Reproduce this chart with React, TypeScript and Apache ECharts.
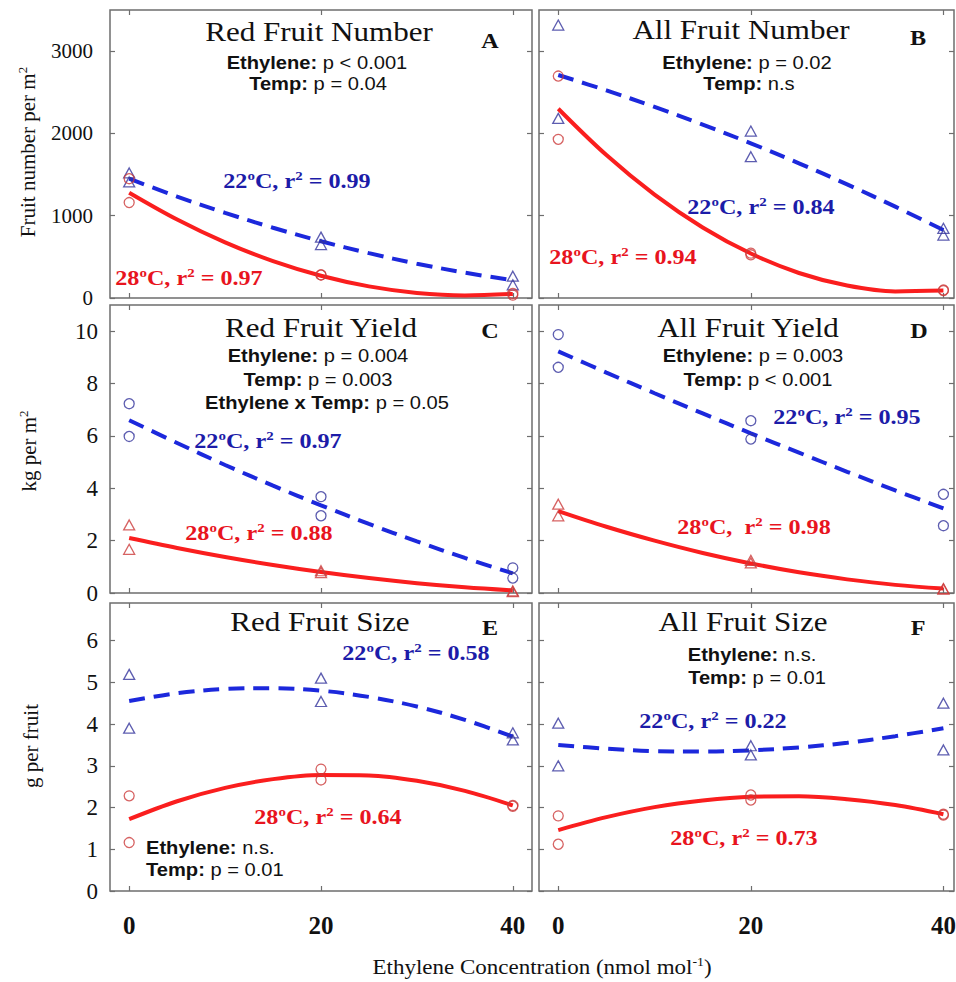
import React, { useEffect, useRef } from "react";
import * as echarts from "echarts";

// ---------- data ----------
const xTickValues = [0, 20, 40];
const fitX = [0, 5, 10, 15, 20, 25, 30, 35, 40];
const obsX = [0, 0, 20, 20, 40, 40];

const numberTicks = [0, 1000, 2000, 3000];
const yieldTicks = [0, 2, 4, 6, 8, 10];
const sizeTicks = [0, 1, 2, 3, 4, 5, 6];

// A: Red Fruit Number
const redNumberFit22 = [1450, 1233, 1035, 854, 690, 545, 417, 308, 215];
const redNumberFit28 = [1280, 954, 676, 448, 270, 141, 61, 31, 50];
const redNumberObs22 = [1520, 1410, 740, 650, 265, 160];
const redNumberObs28 = [1450, 1160, 280, 280, 55, 35];

// B: All Fruit Number
const allNumberFit22 = [2710, 2523, 2323, 2108, 1880, 1637, 1381, 1110, 826];
const allNumberFit28 = [2300, 1737, 1256, 857, 540, 304, 151, 80, 90];
const allNumberObs22 = [3317, 2183, 2029, 1717, 847, 765];
const allNumberObs28 = [2697, 1928, 545, 525, 97, 90];

// C: Red Fruit Yield
const redYieldFit22 = [6.6, 5.73, 4.89, 4.1, 3.35, 2.64, 1.97, 1.34, 0.75];
const redYieldFit28 = [2.1, 1.72, 1.375, 1.07, 0.8, 0.57, 0.375, 0.22, 0.1];
const redYieldObs22 = [7.23, 5.98, 3.68, 2.95, 0.96, 0.57];
const redYieldObs28 = [2.6, 1.67, 0.85, 0.78, 0.08, 0.05];

// D: All Fruit Yield
const allYieldFit22 = [9.23, 8.42, 7.63, 6.86, 6.1, 5.36, 4.63, 3.92, 3.23];
const allYieldFit28 = [3.13, 2.53, 2.0, 1.53, 1.13, 0.79, 0.52, 0.31, 0.17];
const allYieldObs22 = [9.87, 8.62, 6.58, 5.88, 3.77, 2.57];
const allYieldObs28 = [3.39, 2.95, 1.25, 1.15, 0.17, 0.15];

// E: Red Fruit Size
const redSizeFit22 = [4.55, 4.74, 4.84, 4.86, 4.8, 4.65, 4.42, 4.1, 3.7];
const redSizeFit28 = [1.72, 2.15, 2.47, 2.68, 2.78, 2.77, 2.64, 2.4, 2.05];
const redSizeObs22 = [5.19, 3.9, 5.1, 4.54, 3.79, 3.62];
const redSizeObs28 = [2.28, 1.16, 2.92, 2.66, 2.05, 2.03];

// F: All Fruit Size
const allSizeFit22 = [3.5, 3.41, 3.35, 3.34, 3.37, 3.44, 3.55, 3.71, 3.9];
const allSizeFit28 = [1.46, 1.77, 2.01, 2.17, 2.26, 2.27, 2.2, 2.06, 1.84];
const allSizeObs22 = [4.02, 3.0, 3.48, 3.26, 4.5, 3.38];
const allSizeObs28 = [1.8, 1.12, 2.3, 2.18, 1.84, 1.82];

// ---------- style ----------
const SERIF = "'Liberation Serif','Times New Roman',serif";
const SANS = "'Liberation Sans',Arial,sans-serif";
const FRAME = "#6e6e6e";
const BLUE_LINE = "#1c28dc";
const RED_LINE = "#fa1e1e";
const BLUE_MARK = "#34349c";
const RED_MARK = "#cc3b3b";
const BLUE_TXT = "#1c1ca8";
const RED_TXT = "#e8141e";
const SX = 1.15;

type Panel = {
  rect: number[];
  xMax: number;
  yMax: number;
  yTicks: number[];
  yLabels: boolean;
  yLabelSize: number;
  yLabelMargin: number;
  xLabels: boolean;
  fit22: number[];
  fit28: number[];
  obs22: number[];
  obs28: number[];
  sym22: string;
  sym28: string;
};

const panels: Panel[] = [
  { rect: [110, 10, 422, 288], xMax: 42, yMax: 3500, yTicks: numberTicks, yLabels: true, yLabelSize: 21, yLabelMargin: 17, xLabels: false, fit22: redNumberFit22, fit28: redNumberFit28, obs22: redNumberObs22, obs28: redNumberObs28, sym22: "triangle", sym28: "circle" },
  { rect: [539, 10, 415, 288], xMax: 41.1, yMax: 3500, yTicks: numberTicks, yLabels: false, yLabelSize: 21, yLabelMargin: 17, xLabels: false, fit22: allNumberFit22, fit28: allNumberFit28, obs22: allNumberObs22, obs28: allNumberObs28, sym22: "triangle", sym28: "circle" },
  { rect: [110, 305, 422, 288], xMax: 42, yMax: 11, yTicks: yieldTicks, yLabels: true, yLabelSize: 23, yLabelMargin: 12, xLabels: false, fit22: redYieldFit22, fit28: redYieldFit28, obs22: redYieldObs22, obs28: redYieldObs28, sym22: "circle", sym28: "triangle" },
  { rect: [539, 305, 415, 288], xMax: 41.1, yMax: 11, yTicks: yieldTicks, yLabels: false, yLabelSize: 23, yLabelMargin: 12, xLabels: false, fit22: allYieldFit22, fit28: allYieldFit28, obs22: allYieldObs22, obs28: allYieldObs28, sym22: "circle", sym28: "triangle" },
  { rect: [110, 603, 422, 288], xMax: 42, yMax: 6.9, yTicks: sizeTicks, yLabels: true, yLabelSize: 23, yLabelMargin: 12, xLabels: true, fit22: redSizeFit22, fit28: redSizeFit28, obs22: redSizeObs22, obs28: redSizeObs28, sym22: "triangle", sym28: "circle" },
  { rect: [539, 603, 415, 288], xMax: 41.1, yMax: 6.9, yTicks: sizeTicks, yLabels: false, yLabelSize: 23, yLabelMargin: 12, xLabels: true, fit22: allSizeFit22, fit28: allSizeFit28, obs22: allSizeObs22, obs28: allSizeObs28, sym22: "triangle", sym28: "circle" },
];

// ---------- text helpers ----------
const titleEl = (text: string, x: number, y: number) => ({
  type: "text", x, y, scaleX: SX, z: 10,
  style: { text, fontFamily: SERIF, fontSize: 27, fill: "#111", textAlign: "center", align: "center", textVerticalAlign: "middle", verticalAlign: "middle" },
});
const letterEl = (text: string, x: number, y: number) => ({
  type: "text", x, y, scaleX: SX, z: 10,
  style: { text, fontFamily: SERIF, fontWeight: "bold", fontSize: 21, fill: "#111", textAlign: "center", align: "center", textVerticalAlign: "middle", verticalAlign: "middle" },
});
const statEl = (bold: string, rest: string, x: number, y: number, align = "center") => ({
  type: "text", x, y, scaleX: SX, z: 10,
  style: {
    text: `{b|${bold}}{r|${rest}}`,
    textAlign: align, align, textVerticalAlign: "middle", verticalAlign: "middle",
    rich: {
      b: { fontFamily: SANS, fontWeight: "bold", fontSize: 17.5, fill: "#111" },
      r: { fontFamily: SANS, fontSize: 17.5, fill: "#111" },
    },
  },
});
const r2El = (temp: string, r2: string, color: string, x: number, y: number, sep = " ") => ({
  type: "text", x, y, scaleX: SX, z: 10,
  style: {
    text: `{a|${temp}}{s|o}{a|C,${sep}r}{s|2}{a| = ${r2}}`,
    textAlign: "center", align: "center", textVerticalAlign: "middle", verticalAlign: "middle",
    rich: {
      a: { fontFamily: SERIF, fontWeight: "bold", fontSize: 21, fill: color, lineHeight: 24 },
      s: { fontFamily: SERIF, fontWeight: "bold", fontSize: 13, fill: color, lineHeight: 12, verticalAlign: "top" },
    },
  },
});
const yTitleEl = (main: string, sup: string, x: number, y: number) => ({
  type: "text", x, y, rotation: Math.PI / 2, z: 10,
  style: {
    text: sup ? `{a|${main}}{s|${sup}}` : `{a|${main}}`,
    textAlign: "center", align: "center", textVerticalAlign: "middle", verticalAlign: "middle",
    rich: {
      a: { fontFamily: SERIF, fontSize: 21, fill: "#111", lineHeight: 24 },
      s: { fontFamily: SERIF, fontSize: 13, fill: "#111", lineHeight: 12, verticalAlign: "top" },
    },
  },
});

const graphics = [
  // A
  titleEl("Red Fruit Number", 319, 32),
  letterEl("A", 490, 41),
  statEl("Ethylene:", " p < 0.001", 317, 63),
  statEl("Temp:", " p = 0.04", 318, 84),
  r2El("22", "0.99", BLUE_TXT, 297, 181),
  r2El("28", "0.97", RED_TXT, 189, 278),
  // B
  titleEl("All Fruit Number", 741, 30),
  letterEl("B", 918, 38),
  statEl("Ethylene:", " p = 0.02", 747, 63),
  statEl("Temp:", " n.s", 749, 84),
  r2El("22", "0.84", BLUE_TXT, 761, 207),
  r2El("28", "0.94", RED_TXT, 623, 257),
  // C
  titleEl("Red Fruit Yield", 321, 328),
  letterEl("C", 490, 331),
  statEl("Ethylene:", " p = 0.004", 318, 356),
  statEl("Temp:", " p = 0.003", 318, 380),
  statEl("Ethylene x Temp:", " p = 0.05", 327, 403),
  r2El("22", "0.97", BLUE_TXT, 268, 441),
  r2El("28", "0.88", RED_TXT, 259, 533),
  // D
  titleEl("All Fruit Yield", 748, 328),
  letterEl("D", 919, 331),
  statEl("Ethylene:", " p = 0.003", 753, 356),
  statEl("Temp:", " p < 0.001", 758, 380),
  r2El("22", "0.95", BLUE_TXT, 847, 417),
  r2El("28", "0.98", RED_TXT, 754, 527, "  "),
  // E
  titleEl("Red Fruit Size", 320, 622),
  letterEl("E", 490, 628),
  r2El("22", "0.58", BLUE_TXT, 416, 653),
  r2El("28", "0.64", RED_TXT, 328, 817),
  statEl("Ethylene:", " n.s.", 146, 848, "left"),
  statEl("Temp:", " p = 0.01", 146, 870, "left"),
  // F
  titleEl("All Fruit Size", 743, 622),
  letterEl("F", 918, 628),
  statEl("Ethylene:", " n.s.", 752, 655),
  statEl("Temp:", " p = 0.01", 757, 678),
  r2El("22", "0.22", BLUE_TXT, 713, 721),
  r2El("28", "0.73", RED_TXT, 744, 838),
  // axis titles
  yTitleEl("Fruit number per m", "2", 28, 152),
  yTitleEl("kg per m", "2", 29, 451),
  yTitleEl("g per fruit", "", 31, 746),
  {
    type: "text", x: 542, y: 968, scaleX: SX, z: 10,
    style: {
      text: "{a|Ethylene Concentration (nmol mol}{s|-1}{a|)}",
      textAlign: "center", align: "center", textVerticalAlign: "middle", verticalAlign: "middle",
      rich: {
        a: { fontFamily: SERIF, fontSize: 20, fill: "#111", lineHeight: 24 },
        s: { fontFamily: SERIF, fontSize: 12, fill: "#111", lineHeight: 12, verticalAlign: "top" },
      },
    },
  },
];

// ---------- option ----------
const tickStyle = { color: FRAME, width: 1.2 };
const plain = (v: number) => String(v);

const option: any = {
  animation: false,
  backgroundColor: "#ffffff",
  grid: panels.map((p) => ({
    left: p.rect[0], top: p.rect[1], width: p.rect[2], height: p.rect[3],
    show: true, borderColor: FRAME, borderWidth: 1.5, backgroundColor: "transparent",
    containLabel: false, outerBoundsMode: "none",
  })),
  xAxis: panels.flatMap((p, i) => [
    {
      type: "value", gridIndex: i, position: "bottom", min: -2, max: p.xMax,
      axisLine: { show: false, onZero: false }, splitLine: { show: false },
      axisTick: { show: true, inside: true, length: 5, customValues: xTickValues, lineStyle: tickStyle },
      axisLabel: { show: p.xLabels, customValues: xTickValues, formatter: plain, margin: 22, fontSize: 25, fontWeight: "bold", fontFamily: SERIF, color: "#111" },
    },
    {
      type: "value", gridIndex: i, position: "top", min: -2, max: p.xMax,
      axisLine: { show: false, onZero: false }, splitLine: { show: false },
      axisTick: { show: true, inside: true, length: 5, customValues: xTickValues, lineStyle: tickStyle },
      axisLabel: { show: false },
    },
  ]),
  yAxis: panels.flatMap((p, i) => [
    {
      type: "value", gridIndex: i, position: "left", min: 0, max: p.yMax,
      axisLine: { show: false, onZero: false }, splitLine: { show: false },
      axisTick: { show: true, inside: true, length: 5, customValues: p.yTicks, lineStyle: tickStyle },
      axisLabel: { show: p.yLabels, customValues: p.yTicks, formatter: plain, margin: p.yLabelMargin, fontSize: p.yLabelSize, fontFamily: SERIF, color: "#111" },
    },
    {
      type: "value", gridIndex: i, position: "right", min: 0, max: p.yMax,
      axisLine: { show: false, onZero: false }, splitLine: { show: false },
      axisTick: { show: true, inside: true, length: 5, customValues: p.yTicks, lineStyle: tickStyle },
      axisLabel: { show: false },
    },
  ]),
  series: panels.flatMap((p, i) => {
    const markSize = (s: string) => (s === "triangle" ? [11, 10] : 10);
    return [
      {
        type: "line", xAxisIndex: 2 * i, yAxisIndex: 2 * i, silent: true, z: 2,
        data: fitX.map((x, k) => [x, p.fit22[k]]),
        smooth: 0.35, symbol: "none", showSymbol: false,
        lineStyle: { color: BLUE_LINE, width: 4, type: [16, 9], cap: "butt" },
      },
      {
        type: "line", xAxisIndex: 2 * i, yAxisIndex: 2 * i, silent: true, z: 2,
        data: fitX.map((x, k) => [x, p.fit28[k]]),
        smooth: 0.35, symbol: "none", showSymbol: false,
        lineStyle: { color: RED_LINE, width: 4, type: "solid" },
      },
      {
        type: "scatter", xAxisIndex: 2 * i, yAxisIndex: 2 * i, silent: true, z: 3,
        symbol: p.sym22, symbolSize: markSize(p.sym22),
        itemStyle: { color: "rgba(0,0,0,0)", borderColor: BLUE_MARK, borderWidth: 1.3 },
        data: obsX.map((x, k) => [x, p.obs22[k]]),
      },
      {
        type: "scatter", xAxisIndex: 2 * i, yAxisIndex: 2 * i, silent: true, z: 3,
        symbol: p.sym28, symbolSize: markSize(p.sym28),
        itemStyle: { color: "rgba(0,0,0,0)", borderColor: RED_MARK, borderWidth: 1.3 },
        data: obsX.map((x, k) => [x, p.obs28[k]]),
      },
    ];
  }),
  graphic: { elements: graphics },
};

export default function App() {
  const ref = useRef<HTMLDivElement>(null);
  useEffect(() => {
    if (!ref.current) return;
    const chart = echarts.init(ref.current, null, { renderer: "svg", width: 956, height: 982 });
    chart.setOption(option);
    return () => chart.dispose();
  }, []);
  return (
    <div
      ref={ref}
      style={{ position: "absolute", left: 0, top: 0, width: 956, height: 982, background: "#fff" }}
    />
  );
}
